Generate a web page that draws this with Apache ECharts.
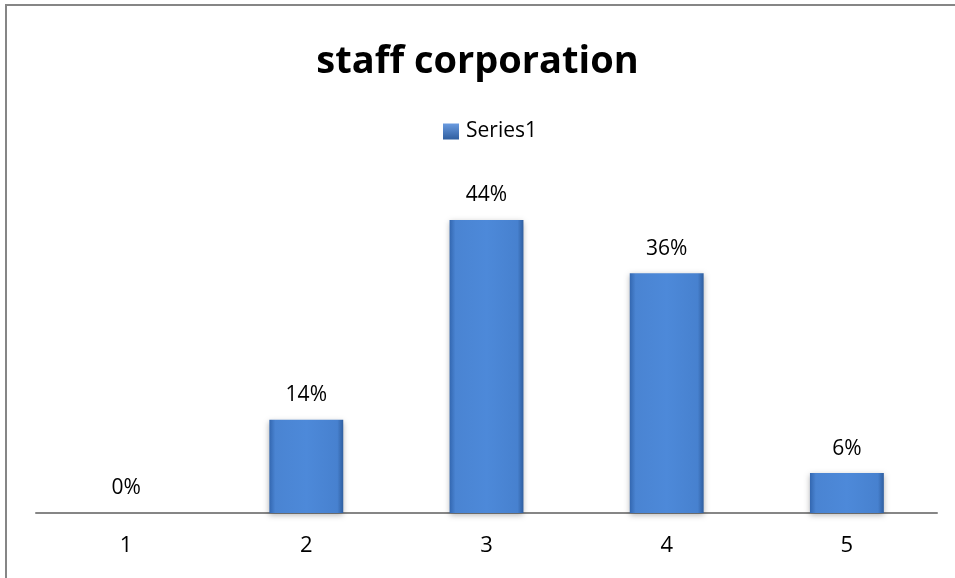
<!DOCTYPE html>
<html>
<head>
<meta charset="utf-8">
<script src="https://cdn.jsdelivr.net/npm/echarts@6/dist/echarts.min.js"></script>
<style>html,body{margin:0;padding:0;background:#fff;}#c{width:955px;height:578px;}</style>
</head>
<body>
<div id="c"></div>
<script>
var categories = ['1', '2', '3', '4', '5'];
var series1 = [0, 0.14, 0.44, 0.36, 0.06];
var seriesName = 'Series1';
var titleText = 'staff corporation';

var chart = echarts.init(document.getElementById('c'));
var barGrad = new echarts.graphic.LinearGradient(0, 0, 1, 0, [
  {offset: 0, color: '#3367b0'},
  {offset: 0.08, color: '#4a84d2'},
  {offset: 0.5, color: '#4d89d9'},
  {offset: 0.92, color: '#4781cf'},
  {offset: 1, color: '#2f5e9f'}
]);
var iconGrad = new echarts.graphic.LinearGradient(0, 0, 0, 1, [
  {offset: 0, color: '#6a9be0'},
  {offset: 1, color: '#2f5e9f'}
]);
chart.setOption({
  animation: false,
  title: {
    text: titleText, left: 'center', top: 38,
    textStyle: {fontFamily: 'Open Sans', fontWeight: 'bold', fontSize: 38, color: '#000'}
  },
  legend: {
    data: [{name: seriesName, itemStyle: {color: iconGrad}}], top: 116, left: 438,
    icon: 'rect', itemWidth: 16, itemHeight: 16, itemGap: 7,
    textStyle: {fontFamily: 'Open Sans', fontSize: 21, color: '#000', padding: [0, 0, 0, 2]}
  },
  graphic: [{
    type: 'polyline', silent: true,
    shape: {points: [[6, 600], [6, 5], [960, 5]]},
    style: {stroke: '#868686', lineWidth: 2, fill: null}
  }],
  grid: {left: 36, right: 18, top: 180, bottom: 65},
  xAxis: {
    type: 'category', data: categories,
    axisLine: {lineStyle: {color: '#868686', width: 2}},
    axisTick: {show: false},
    axisLabel: {fontFamily: 'Open Sans', fontSize: 22, color: '#000', margin: 22}
  },
  yAxis: {
    type: 'value', min: 0, max: 0.5, interval: 0.1, show: false
  },
  series: [{
    name: seriesName, type: 'bar', data: series1, barWidth: '41%',
    itemStyle: {color: barGrad, shadowColor: 'rgba(0,0,0,0.3)', shadowBlur: 6, shadowOffsetY: 2},
    label: {
      show: true, position: 'top', distance: 14,
      fontFamily: 'Open Sans', fontSize: 21, color: '#000',
      formatter: function (p) { return Math.round(p.value * 100) + '%'; }
    }
  }]
});
</script>
</body>
</html>
